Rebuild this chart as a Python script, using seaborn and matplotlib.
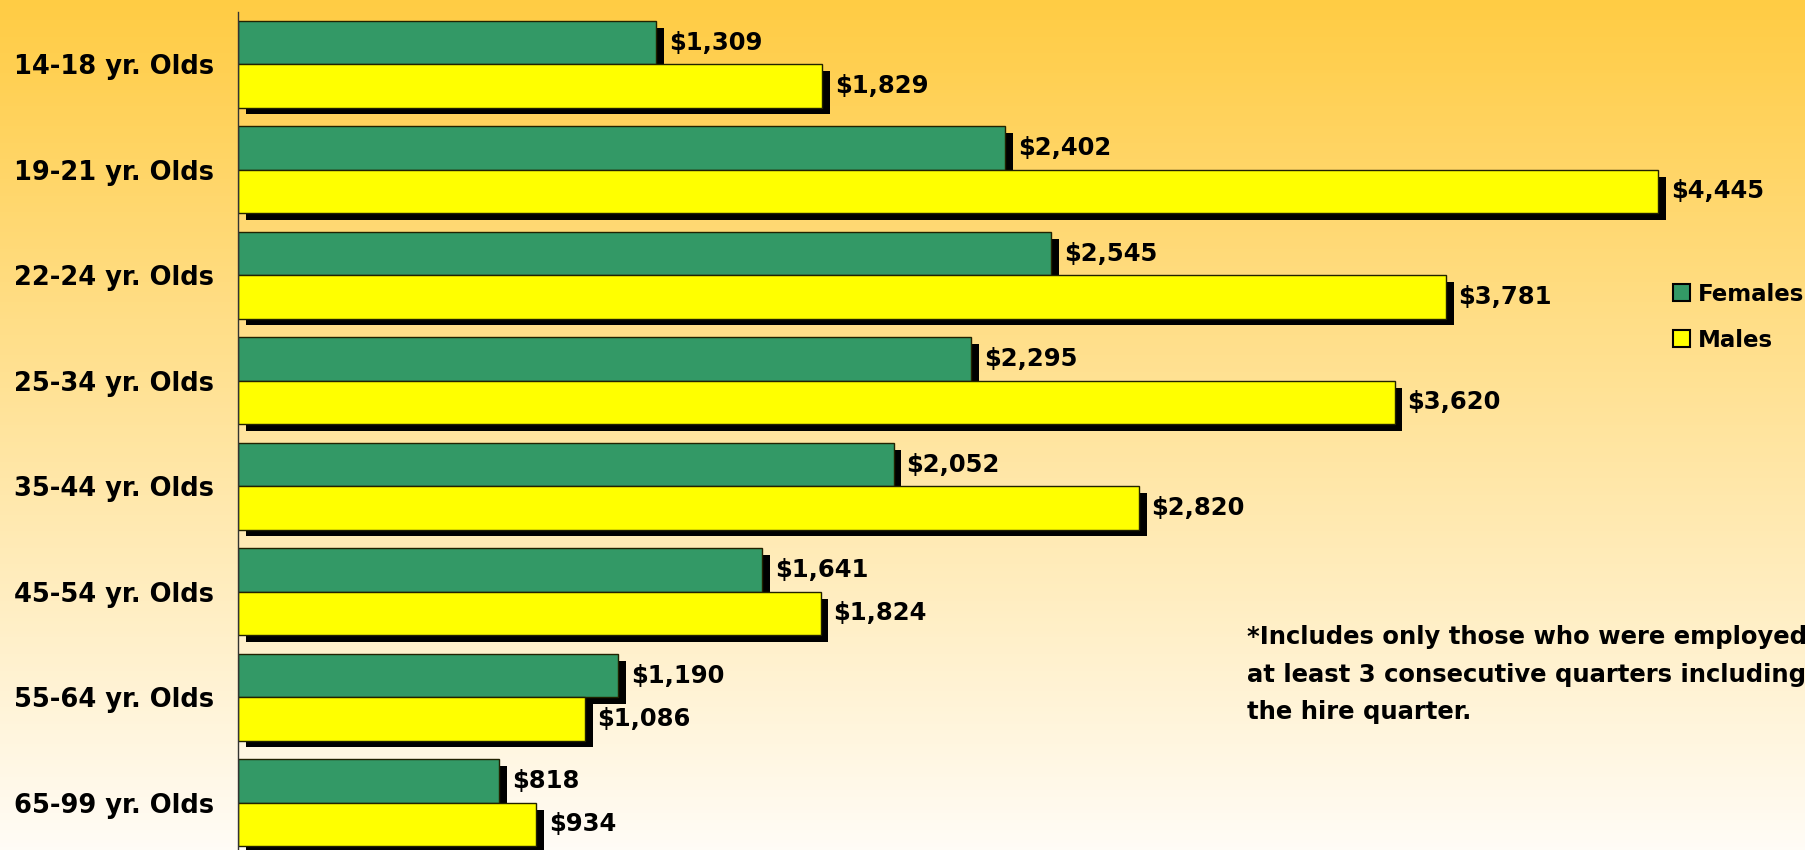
import numpy as np
import pandas as pd
import seaborn as sns
import matplotlib.pyplot as plt
import matplotlib.patches as mpatches
import matplotlib.patheffects as pe

# data
ages = ["14-18 yr. Olds", "19-21 yr. Olds", "22-24 yr. Olds", "25-34 yr. Olds",
        "35-44 yr. Olds", "45-54 yr. Olds", "55-64 yr. Olds", "65-99 yr. Olds"]
females = [1309, 2402, 2545, 2295, 2052, 1641, 1190, 818]
males = [1829, 4445, 3781, 3620, 2820, 1824, 1086, 934]
groups = ["Females", "Males"]
colors = ["#339966", "#FFFF00"]

footnote = ("*Includes only those who were employed\n"
            "at least 3 consecutive quarters including\n"
            "the hire quarter.")

df = pd.DataFrame({"age": ages, "Females": females, "Males": males})
long_df = df.melt(id_vars="age", var_name="sex", value_name="earnings")

sns.set_style("white")
plt.rcParams["font.family"] = ["DejaVu Sans"]
plt.rcParams["font.weight"] = "bold"
plt.rcParams["text.color"] = "black"
plt.rcParams["ytick.color"] = "black"
plt.rcParams["ytick.labelcolor"] = "black"

fig = plt.figure(figsize=(18.05, 8.5), dpi=100)

# -------------------------------
# gradient background
# -------------------------------
top = np.array([255, 204, 68]) / 255
bot = np.array([255, 252, 246]) / 255
t = np.linspace(0, 1, 256)[:, None, None]
grad = top * (1 - t) + bot * t
bg = fig.add_axes([0, 0, 1, 1], zorder=-1)
bg.imshow(grad, aspect="auto", extent=[0, 1, 0, 1])
bg.axis("off")

# -------------------------------
# bars
# -------------------------------
ax = fig.add_axes([238 / 1805, -5.5 / 850, 1 - 238 / 1805, 844 / 850])
ax.set_facecolor("none")
sns.barplot(data=long_df, y="age", x="earnings", hue="sex", hue_order=groups,
            palette=colors, width=0.82, saturation=1, orient="h",
            edgecolor="#222200", linewidth=1, legend=False, ax=ax)

shadow = [pe.SimplePatchShadow(offset=(5.5, -5), shadow_rgbFace="black", alpha=1),
          pe.Normal()]
for p in ax.patches:
    p.set_path_effects(shadow)

for cont, vals in zip(ax.containers, [females, males]):
    ax.bar_label(cont, labels=[f"${v:,}" for v in vals], padding=9,
                 fontsize=17.5, fontweight="bold", color="black")

ax.set_xlim(0, 1567 / 0.3195)
ax.set_ylim(len(ages) - 0.5, -0.5)
ax.set_xlabel("")
ax.set_ylabel("")
ax.set_xticks([])
ax.set_yticks(np.arange(len(ages)))
ax.set_yticklabels(ages, fontsize=18.5, fontweight="bold", color="black")
ax.set_yticks(np.arange(len(ages) + 1) - 0.5, minor=True)
ax.tick_params(axis="y", which="major", length=0, pad=17)
ax.tick_params(axis="y", which="minor", length=6, width=1, direction="out", color="black")
for side in ["top", "right", "bottom"]:
    ax.spines[side].set_visible(False)
ax.spines["left"].set_color("#333333")
ax.spines["left"].set_linewidth(1)

# -------------------------------
# legend + footnote
# -------------------------------
handles = [mpatches.Patch(facecolor=c, edgecolor="black", linewidth=1.5, label=g)
           for g, c in zip(groups, colors)]
fig.legend(handles=handles, loc="upper left", bbox_to_anchor=(1652 / 1805, 1 - 262 / 850),
           frameon=False, handlelength=0.75, handleheight=0.75, handletextpad=0.35,
           labelspacing=1.0, prop={"size": 16.5, "weight": "bold"})

fig.text(1247 / 1805, 1 - 625 / 850, footnote, fontsize=17.5, fontweight="bold",
         va="top", ha="left", linespacing=1.72, color="black")

fig.savefig("out.png", dpi=100)
